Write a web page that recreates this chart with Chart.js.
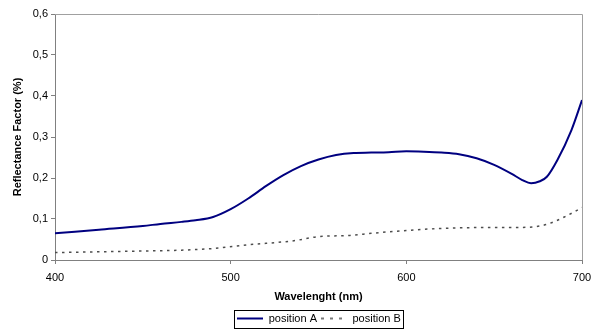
<!DOCTYPE html>
<html>
<head>
<meta charset="utf-8">
<script src="https://cdn.jsdelivr.net/npm/chart.js@4.4.0/dist/chart.umd.min.js"></script>
<style>
  html, body { margin: 0; padding: 0; background: #fff; }
  #wrap { width: 602px; height: 329px; }
</style>
</head>
<body>
<div id="wrap"><canvas id="refl" width="602" height="329"></canvas></div>
<script>
// wavelength (nm) and reflectance readings
const wavelengthA = [400, 425, 450, 460, 472, 480, 490, 500, 510, 520, 530, 540, 550, 560, 570, 580, 590, 600, 610, 620, 630, 640, 650, 660, 666, 671, 676, 680, 686, 694, 700];
const positionA = [0.065, 0.074, 0.083, 0.088, 0.093, 0.097, 0.105, 0.124, 0.150, 0.180, 0.207, 0.229, 0.245, 0.256, 0.261, 0.262, 0.263, 0.265, 0.264, 0.262, 0.258, 0.248, 0.232, 0.210, 0.195, 0.187, 0.192, 0.203, 0.244, 0.317, 0.390];

const wavelengthB = [400, 425, 450, 472, 490, 510, 536, 550, 568, 580, 600, 620, 640, 655, 670, 680, 690, 700];
const positionB = [0.018, 0.020, 0.022, 0.024, 0.028, 0.037, 0.047, 0.057, 0.060, 0.065, 0.072, 0.077, 0.079, 0.079, 0.080, 0.087, 0.105, 0.128];

const xTicks = [400, 500, 600, 700];
const yTicks = [0, 0.1, 0.2, 0.3, 0.4, 0.5, 0.6];

const font = 'Liberation Sans, Arial, sans-serif';
const colorA = '#000080';
const colorB = '#4d4d4d';
const dashB = [2.5, 4.5];

const toPoints = (xs, ys) => xs.map((x, i) => ({ x, y: ys[i] }));

// little line samples for the legend (the built-in point style ignores dashes)
function lineSample(color, width, dash) {
  const c = document.createElement('canvas');
  c.width = 26;
  c.height = 4;
  const g = c.getContext('2d');
  g.strokeStyle = color;
  g.lineWidth = width;
  g.setLineDash(dash);
  g.beginPath();
  g.moveTo(0, 2);
  g.lineTo(26, 2);
  g.stroke();
  return c;
}

// light frame round the plot area plus a border round the legend
const framePlugin = {
  id: 'frame',
  beforeDraw(chart) {
    const lg = chart.legend;
    const boxes = lg.legendHitBoxes;
    if (!boxes || !boxes.length || lg._moved) return;
    const a = chart.chartArea;
    const l = Math.min(...boxes.map(b => b.left));
    const r = Math.max(...boxes.map(b => b.left + b.width));
    const t = Math.min(...boxes.map(b => b.top));
    const btm = Math.max(...boxes.map(b => b.top + b.height));
    const dx = Math.round((a.left + a.right) / 2 - (l + r) / 2);
    const dy = Math.round(318 - (t + btm) / 2);
    lg.left += dx; lg.right += dx; lg.top += dy; lg.bottom += dy;
    boxes.forEach(b => { b.left += dx; b.top += dy; });
    lg._moved = true;
  },
  afterDraw(chart) {
    const { ctx, chartArea: a, legend } = chart;
    ctx.save();
    ctx.strokeStyle = '#a0a0a0';
    ctx.lineWidth = 1;
    ctx.beginPath();
    ctx.moveTo(a.left, a.top + 0.5);
    ctx.lineTo(a.right + 0.5, a.top + 0.5);
    ctx.lineTo(a.right + 0.5, a.bottom);
    ctx.stroke();

    const boxes = legend.legendHitBoxes;
    if (boxes && boxes.length) {
      const l = Math.min(...boxes.map(b => b.left)) - 3;
      const r = Math.max(...boxes.map(b => b.left + b.width)) + 2;
      const cy = Math.min(...boxes.map(b => b.top)) / 2 + Math.max(...boxes.map(b => b.top + b.height)) / 2;
      ctx.strokeStyle = '#000';
      ctx.strokeRect(Math.round(l) + 0.5, Math.round(cy - 9) + 0.5, Math.round(r - l), 18);
    }
    ctx.restore();
  }
};

new Chart(document.getElementById('refl'), {
  type: 'line',
  data: {
    datasets: [
      {
        label: 'position A',
        data: toPoints(wavelengthA, positionA),
        borderColor: colorA,
        backgroundColor: colorA,
        borderWidth: 2,
        pointRadius: 0,
        cubicInterpolationMode: 'monotone',
        pointStyle: lineSample(colorA, 2, [])
      },
      {
        label: 'position B',
        data: toPoints(wavelengthB, positionB),
        borderColor: colorB,
        backgroundColor: colorB,
        borderWidth: 1.5,
        borderDash: dashB,
        pointRadius: 0,
        cubicInterpolationMode: 'monotone',
        pointStyle: lineSample(colorB, 1.5, [3, 6])
      }
    ]
  },
  options: {
    responsive: false,
    animation: false,
    devicePixelRatio: 1,
    layout: { padding: { left: 0, right: 20, top: 14, bottom: 0 } },
    plugins: {
      tooltip: { enabled: false },
      legend: {
        position: 'bottom',
        labels: {
          usePointStyle: true,
          pointStyleWidth: 26,
          boxHeight: 10,
          padding: 4,
          color: '#000',
          font: { family: font, size: 11 }
        }
      }
    },
    scales: {
      x: {
        type: 'linear',
        min: 400,
        max: 700,
        afterBuildTicks: s => { s.ticks = xTicks.map(v => ({ value: v })); },
        afterFit: s => { s.height = 44; },
        ticks: {
          color: '#000',
          padding: 7,
          maxRotation: 0,
          font: { family: font, size: 11 }
        },
        grid: { drawOnChartArea: false, tickLength: 4, color: '#808080' },
        border: { color: '#808080' },
        title: {
          display: true,
          text: 'Wavelenght (nm)',
          color: '#000',
          padding: { top: 3, bottom: 0 },
          font: { family: font, size: 11, weight: 'bold' }
        }
      },
      y: {
        min: 0,
        max: 0.6,
        afterBuildTicks: s => { s.ticks = yTicks.map(v => ({ value: v })); },
        afterFit: s => { s.width = 55; },
        ticks: {
          color: '#000',
          padding: 3,
          font: { family: font, size: 11 },
          callback: v => v === 0 ? '0' : v.toFixed(1).replace('.', ',')
        },
        grid: { drawOnChartArea: false, tickLength: 4, color: '#808080' },
        border: { color: '#808080' },
        title: {
          display: true,
          text: 'Reflectance Factor (%)',
          color: '#000',
          padding: { top: 11, bottom: 0 },
          font: { family: font, size: 11, weight: 'bold' }
        }
      }
    }
  },
  plugins: [framePlugin]
});
</script>
</body>
</html>
